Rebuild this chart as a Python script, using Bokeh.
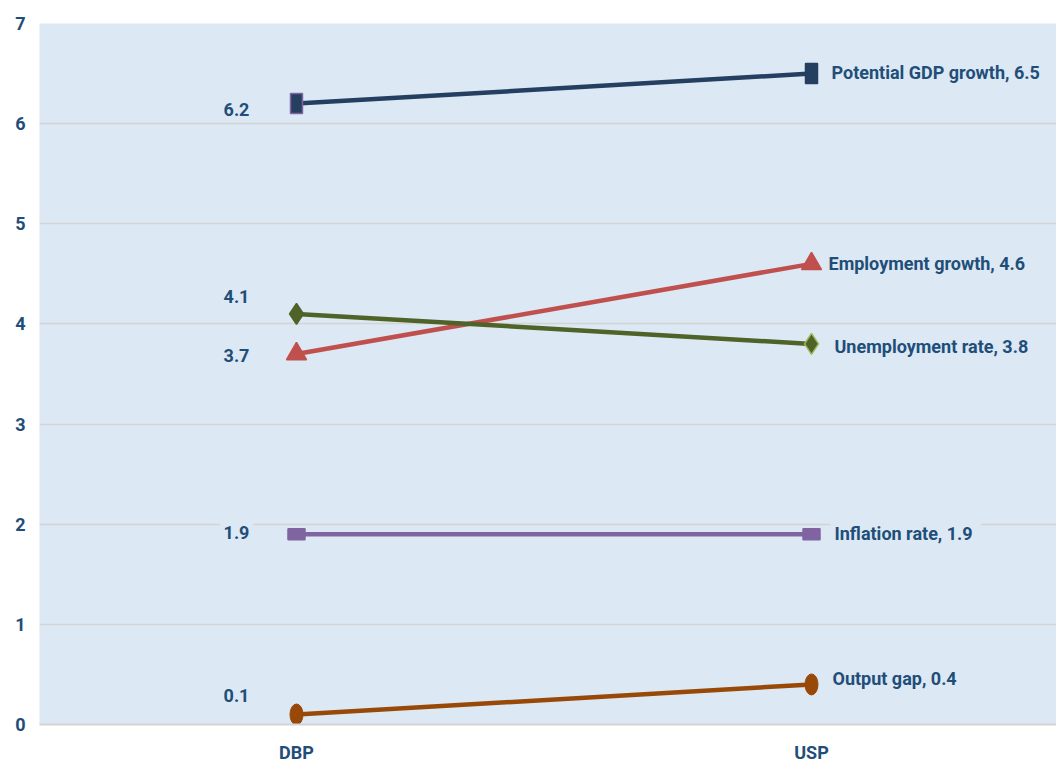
from bokeh.plotting import figure
from bokeh.models import Label, FixedTicker, Range1d, ColumnDataSource
from bokeh.embed import file_html
from bokeh.resources import INLINE

# ---------------- data ----------------
categories = ["DBP", "USP"]
series_names = ["Potential GDP growth", "Employment growth", "Unemployment rate",
                "Inflation rate", "Output gap"]
potential_gdp_growth = [6.2, 6.5]
employment_growth = [3.7, 4.6]
unemployment_rate = [4.1, 3.8]
inflation_rate = [1.9, 1.9]
output_gap = [0.1, 0.4]
y_ticks = [0, 1, 2, 3, 4, 5, 6, 7]
title_tail = "(%)"

series_values = [potential_gdp_growth, employment_growth, unemployment_rate,
                 inflation_rate, output_gap]

# ---------------- styles ----------------
BG = "#DCE8F4"
GRID = "#D4D4D4"
TXT = "#1F4E79"
FONT = "Roboto"
FS = "18px"

colors = ["#243F60", "#C0504D", "#4F6228", "#8064A2", "#984807"]
markers = ["rect", "triangle", "diamond", "rect", "ellipse"]
marker_w = [12, 20, 0, 17, 13]
marker_h = [20, 20, 21, 11, 21]
marker_outline = [["#8064A2", "#243F60"], ["#C0504D", "#C0504D"],
                  ["#4F6228", "#9BBB59"], ["#8064A2", "#8064A2"],
                  ["#984807", "#984807"]]
line_w = 4.5
# label placement (screen px; +down)
left_dx = -60
left_dy = [6, 2, -17, -2, -19]
right_dx = [16, 13, 19, 19, 17]
right_dy = [-1, 0, 3, -1, -6]

x_pos = list(range(len(categories)))

p = figure(width=1056, height=766, output_backend="svg", toolbar_location=None,
           x_range=Range1d(-0.499, 1.4757), y_range=Range1d(0, 7),
           min_border_left=39, min_border_right=0, min_border_top=23,
           min_border_bottom=42)
p.background_fill_color = BG
p.border_fill_color = "white"
p.outline_line_color = None

p.xgrid.visible = False
p.ygrid.ticker = FixedTicker(ticks=y_ticks)
p.ygrid.grid_line_color = GRID
p.ygrid.grid_line_width = 1.5

p.yaxis.ticker = FixedTicker(ticks=y_ticks)
p.yaxis.axis_line_color = None
p.yaxis.major_tick_line_color = None
p.yaxis.minor_tick_line_color = None
p.yaxis.major_tick_out = 0
p.yaxis.major_tick_in = 0
p.yaxis.major_label_standoff = 14

p.xaxis.ticker = FixedTicker(ticks=x_pos)
p.xaxis.major_label_overrides = {i: c for i, c in zip(x_pos, categories)}
p.xaxis.axis_line_color = GRID
p.xaxis.axis_line_width = 2
p.xaxis.major_tick_line_color = None
p.xaxis.minor_tick_line_color = None
p.xaxis.major_tick_out = 0
p.xaxis.major_tick_in = 0
p.xaxis.major_label_standoff = 17

for ax in (p.xaxis[0], p.yaxis[0]):
    ax.major_label_text_font = FONT
    ax.major_label_text_font_size = FS
    ax.major_label_text_font_style = "bold"
    ax.major_label_text_color = TXT

for i, (name, vals) in enumerate(zip(series_names, series_values)):
    src = ColumnDataSource(dict(x=x_pos, y=vals, lc=marker_outline[i]))
    p.line("x", "y", source=src, line_color=colors[i], line_width=line_w)
    m = markers[i]
    if m == "rect":
        p.rect("x", "y", width=marker_w[i], height=marker_h[i],
               width_units="screen", height_units="screen", source=src,
               fill_color=colors[i], line_color="lc", line_width=1.5)
    elif m == "ellipse":
        p.ellipse("x", "y", width=marker_w[i], height=marker_h[i],
                  width_units="screen", height_units="screen", source=src,
                  fill_color=colors[i], line_color="lc", line_width=1)
    else:
        p.scatter("x", "y", marker=m, size=marker_h[i], source=src,
                  fill_color=colors[i], line_color="lc", line_width=1.5)

    # left value label
    p.add_layout(Label(x=x_pos[0], y=vals[0], x_offset=left_dx, y_offset=-left_dy[i],
                       text=f"{vals[0]}", text_font=FONT, text_font_size=FS,
                       text_font_style="bold", text_color=TXT,
                       text_align="center", text_baseline="middle",
                       background_fill_color=BG, padding=4))
    # right series label
    p.add_layout(Label(x=x_pos[1], y=vals[1], x_offset=right_dx[i], y_offset=-right_dy[i],
                       text=f"{name},  {vals[1]}", text_font=FONT, text_font_size=FS,
                       text_font_style="bold", text_color=TXT,
                       text_align="left", text_baseline="middle",
                       background_fill_color=BG, padding=4))

p.add_layout(Label(x=1.0854, y=7.2297, text=title_tail, text_font=FONT,
                   text_font_size="26px", text_font_style="bold", text_color=TXT,
                   text_align="center", text_baseline="alphabetic"))

open("out.html", "w").write(file_html(p, INLINE))
